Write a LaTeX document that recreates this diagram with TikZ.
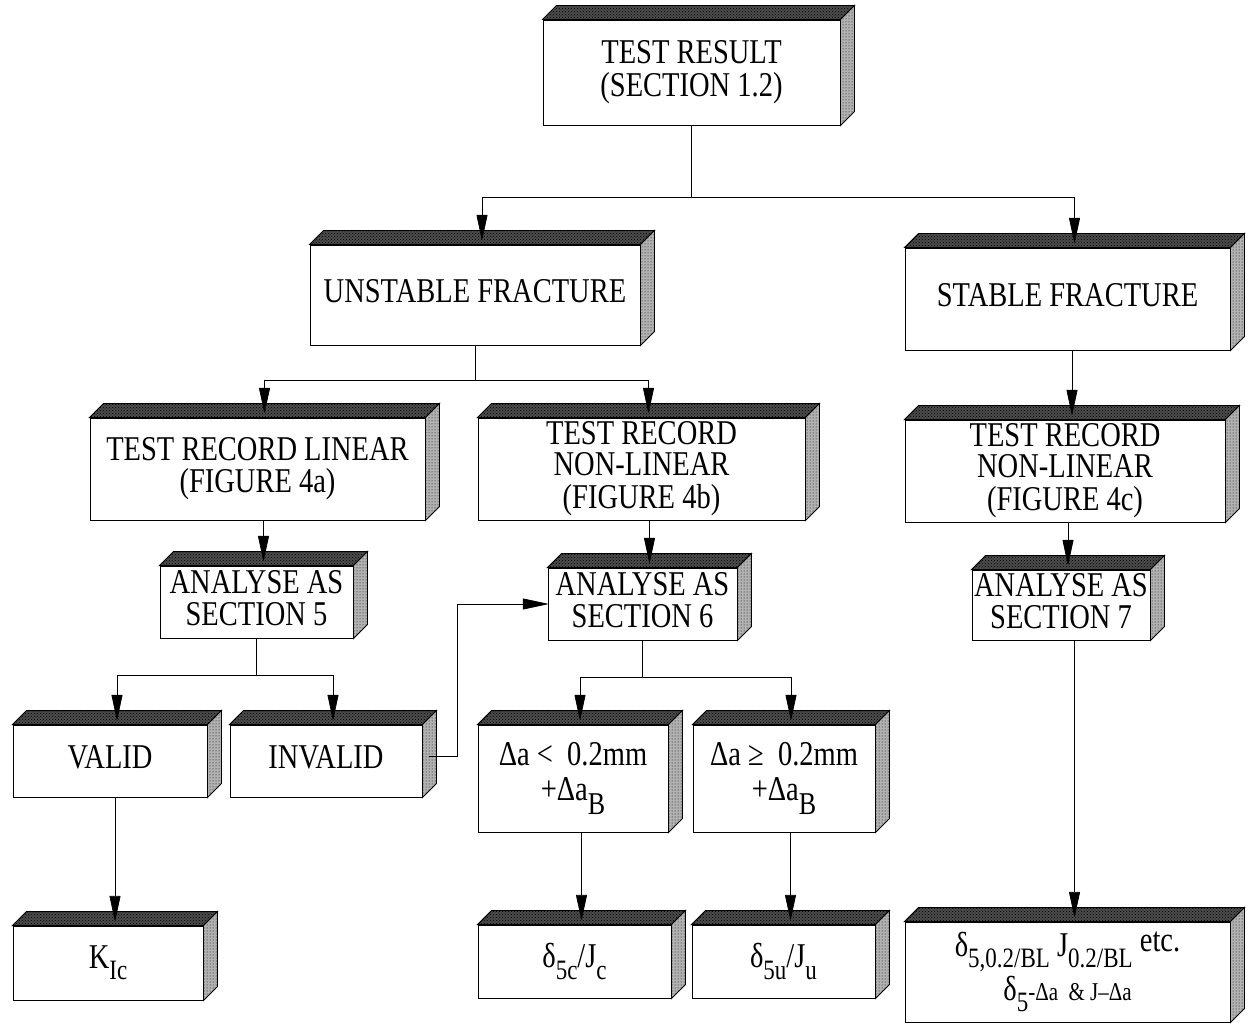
\documentclass[tikz,border=0pt]{standalone}
\usepackage{fontspec}
\setmainfont{Liberation Serif}
\usetikzlibrary{arrows.meta,patterns,calc}
\newcommand\mysub[2][0.32em]{\raisebox{-#1}{\fontsize{23}{23}\selectfont #2}}
\tikzset{
  frontbox/.style={draw, line width=0.9pt, inner sep=0pt, fill=white,
    font=\fontsize{28.5}{23}\selectfont},
  topface/.style={draw, line width=0.9pt, fill=black!70,
    postaction={pattern=crosshatch dots, pattern color=black}},
  sideface/.style={draw, line width=0.9pt, fill=black!30,
    postaction={pattern=dots, pattern color=black}},
  conn/.style={line width=0.7pt},
  arr/.style={conn, -{Triangle[length=26pt,width=11pt,round]}}
}
\newcommand\threebox[6]{%
  \pgfmathsetmacro\bw{#4-#2}\pgfmathsetmacro\bh{#5-#3}%
  \node[frontbox, minimum width=\bw pt, minimum height=\bh pt] (#1)
    at ({(#2+#4)/2},{(#3+#5)/2})
    {\scalebox{1}[1.22]{\begin{tabular}{@{}c@{}}#6\end{tabular}}};
  \path[topface] (#1.north west) -- ++(14,-14) -- ($(#1.north east)+(14,-14)$)
    -- (#1.north east) -- cycle;
  \path[sideface] (#1.north east) -- ++(14,-14) -- ($(#1.south east)+(14,-14)$)
    -- (#1.south east) -- cycle;
  \coordinate (#1-t) at ($(#1.north)+(7,-5)$);
}
\begin{document}
\begin{tikzpicture}[x=1pt,y=-1pt]
\useasboundingbox (0,0) rectangle (1249,1024);

\threebox{top}{543}{20}{840}{125}{TEST RESULT\\(SECTION 1.2)}
\threebox{unst}{310}{245}{640}{345}{UNSTABLE FRACTURE}
\threebox{stab}{905}{248}{1230}{350}{STABLE FRACTURE}
\threebox{lin}{90}{418}{425}{520}{TEST RECORD LINEAR\\(FIGURE 4a)}
\threebox{nlb}{478}{418}{805}{520}{TEST RECORD\\NON-LINEAR\\(FIGURE 4b)}
\threebox{nlc}{905}{420}{1225}{522}{TEST RECORD\\NON-LINEAR\\(FIGURE 4c)}
\threebox{anf}{160}{566}{353}{638}{ANALYSE AS\\SECTION 5}
\threebox{ans}{548}{568}{737}{640}{ANALYSE AS\\SECTION 6}
\threebox{anv}{972}{570}{1150}{640}{ANALYSE AS\\SECTION 7}
\threebox{valid}{13}{725}{207}{797}{VALID}
\threebox{invalid}{230}{725}{422}{797}{INVALID}
\threebox{dlt}{478}{725}{668}{832}{Δa <\ \ 0.2mm\\[3pt]+Δa\mysub[0.4em]{\fontsize{26}{26}\selectfont B}}
\threebox{dge}{693}{725}{875}{832}{Δa ≥\ \ 0.2mm\\[3pt]+Δa\mysub[0.4em]{\fontsize{26}{26}\selectfont B}}
\threebox{kic}{13}{926}{203}{1000}{K\mysub{Ic}}
\threebox{dfc}{478}{925}{671}{998}{δ\mysub{5c}/J\mysub{c}}
\threebox{dfu}{692}{925}{875}{998}{δ\mysub{5u}/J\mysub{u}}
\threebox{res}{905}{922}{1230}{1022}{δ\mysub{5,0.2/BL} J\mysub{0.2/BL} \raisebox{0.15em}{etc.}\\[9pt]δ\mysub{5}{\fontsize{21}{21}\selectfont -Δa \ \& J–Δa}}

\coordinate (b1) at (0,197);
\coordinate (b2) at (0,380);
\coordinate (b3) at (0,675);
\coordinate (b4) at (0,677);
\coordinate (xr) at (457,0);
\coordinate (inv-s) at ($(invalid.east)+(7,-5)$);

\draw[conn] (top.south) -- (top.south |- b1);
\draw[arr] (top.south |- b1) -| (unst-t);
\draw[arr] (top.south |- b1) -| (stab-t);

\draw[conn] (unst.south) -- (unst.south |- b2);
\draw[arr] (unst.south |- b2) -| (lin-t);
\draw[arr] (unst.south |- b2) -| (nlb-t);

\draw[arr] (nlc-t |- stab.south) -- (nlc-t);
\draw[arr] (anf-t |- lin.south) -- (anf-t);
\draw[arr] (ans-t |- nlb.south) -- (ans-t);
\draw[arr] (anv-t |- nlc.south) -- (anv-t);

\draw[conn] (anf.south) -- (anf.south |- b3);
\draw[arr] (anf.south |- b3) -| (valid-t);
\draw[arr] (anf.south |- b3) -| (invalid-t);

\draw[arr] (inv-s) -- (inv-s -| xr) |- (ans.west);

\draw[conn] (ans.south) -- (ans.south |- b4);
\draw[arr] (ans.south |- b4) -| (dlt-t);
\draw[arr] (ans.south |- b4) -| (dge-t);

\draw[arr] (res-t |- anv.south) -- (res-t);
\draw[arr] (kic-t |- valid.south) -- (kic-t);
\draw[arr] (dfc-t |- dlt.south) -- (dfc-t);
\draw[arr] (dfu-t |- dge.south) -- (dfu-t);
\end{tikzpicture}
\end{document}
